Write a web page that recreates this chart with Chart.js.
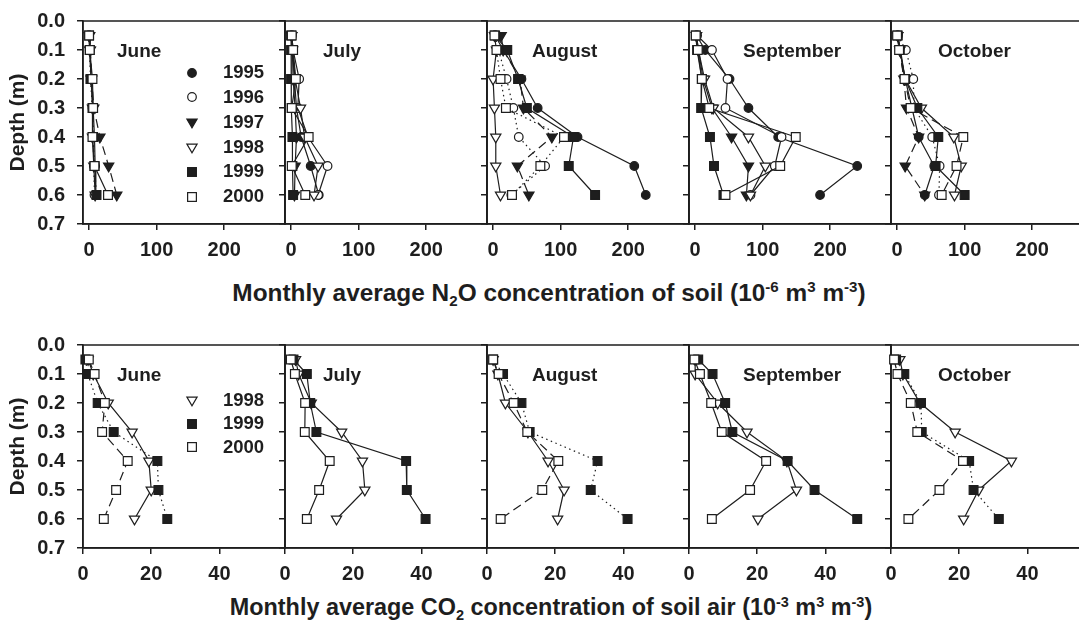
<!DOCTYPE html>
<html><head><meta charset="utf-8">
<script src="https://cdn.jsdelivr.net/npm/chart.js@4.4.1/dist/chart.umd.min.js"></script>
<style>
html,body{margin:0;padding:0;background:#fff;}
#wrap{position:relative;width:1079px;height:632px;overflow:hidden;font-family:'Liberation Sans',Arial,Helvetica,sans-serif;font-weight:bold;color:#1e1e1e;}
canvas{position:absolute;}
.lbl{position:absolute;white-space:nowrap;line-height:1;}
.title{position:absolute;white-space:nowrap;line-height:1;transform:translate(-50%,-50%);}
.title sub,.title sup{font-size:0.62em;line-height:0;}
.title sub{vertical-align:-0.35em;}
.title sup{vertical-align:0.6em;}
</style></head>
<body><div id="wrap"></div>
<script>
// ---------- data ----------
const depths = [0.05, 0.1, 0.2, 0.3, 0.4, 0.5, 0.6];
const months = ['June', 'July', 'August', 'September', 'October'];
const yTicks = [0, 0.1, 0.2, 0.3, 0.4, 0.5, 0.6, 0.7];
const n2oTicks = [0, 100, 200];
const co2Ticks = [0, 20, 40];
const n2oYears = ['1995', '1996', '1997', '1998', '1999', '2000'];
const co2Years = ['1998', '1999', '2000'];

// N2O (10^-6 m3 m-3); rows = June..October, values at depths
const n2o1995 = [
  [0, 1, 3, 6, 8, 9, 10],
  [1, 2, 5, 8, 15, 29, 41],
  [3, 15, 42, 66, 125, 209, 226],
  [2, 15, 51, 79, 123, 240, 185],
  [1, 5, 12, 22, 32, 55, 41]
];
const n2o1996 = [
  [0, 1, 3, 5, 6, 7, 8],
  [1, 3, 12, 10, 25, 54, 40],
  [3, 8, 20, 30, 38, 77, 27],
  [3, 25, 48, 45, 128, 118, 82],
  [1, 13, 24, 25, 52, 63, 62]
];
const n2o1997 = [
  [1, 2, 4, 7, 16, 29, 41],
  [1, 2, 3, 6, 8, 6, 5],
  [12, 15, 40, 45, 87, 36, 53],
  [2, 5, 12, 25, 54, 79, 76],
  [1, 4, 10, 14, 32, 12, 41]
];
const n2o1998 = [
  [0, 1, 3, 5, 5, 7, 9],
  [1, 2, 6, 14, 20, 40, 34],
  [2, 5, 0, 2, 4, 4, 11],
  [2, 5, 14, 27, 79, 104, 82],
  [1, 4, 12, 36, 84, 95, 85]
];
const n2o1999 = [
  [0, 1, 2, 5, 6, 8, 11],
  [0, 0, 0, 1, 2, 2, 3],
  [3, 21, 37, 50, 119, 112, 151],
  [1, 3, 10, 9, 22, 28, 42],
  [1, 4, 12, 30, 61, 57, 100]
];
const n2o2000 = [
  [0, 1, 5, 6, 5, 8, 28],
  [1, 3, 7, 1, 26, 1, 21],
  [2, 5, 11, 19, 105, 70, 28],
  [1, 4, 10, 21, 149, 126, 45],
  [0, 3, 11, 20, 98, 88, 66]
];

// CO2 (10^-3 m3 m-3)
const co2_1998 = [
  [1.5, 3, 7.4, 14.4, 19.3, 20.0, 15.1],
  [3.1, 4, 7.7, 16.6, 22.7, 23.4, 15.1],
  [1.8, 3.2, 5.4, 12, 17.9, 22.6, 20.7],
  [1.8, 1.8, 8.4, 17.0, 28.7, 31.5, 20.2],
  [2.6, 3.5, 8.5, 18.8, 35.3, 25.7, 21.3]
];
const co2_1999 = [
  [0.7, 1.4, 4.3, 9.0, 21.8, 22.1, 24.7],
  [2.5, 6.4, 7.4, 9.2, 35.5, 35.7, 41.2],
  [1.8, 4.7, 10.1, 12.5, 32.4, 30.4, 41.2],
  [2.7, 6.9, 10.6, 12.7, 28.9, 36.8, 49.3],
  [1.5, 3.9, 8.8, 9.0, 22.9, 24.2, 31.6]
];
const co2_2000 = [
  [1.7, 3.4, 6.4, 5.6, 13.1, 9.7, 6.1],
  [1.7, 2.9, 5.9, 5.8, 13.1, 10.0, 6.4],
  [1.8, 3.4, 7.8, 11.8, 20.9, 16.2, 4.0],
  [1.6, 3.2, 6.5, 9.6, 22.6, 17.9, 6.7],
  [0.9, 1.9, 5.8, 7.7, 21.1, 14.2, 5.1]
];

// ---------- styles ----------
const INK = '#1e1e1e';
const FONT = "'Liberation Sans', Arial, Helvetica, sans-serif";
const DASH = { solid: [], dot: [1.5, 3.5], dash: [9, 5] };
const MARK = {
  '1995': { shape: 'circle', filled: true },
  '1996': { shape: 'circle', filled: false },
  '1997': { shape: 'triangle', filled: true },
  '1998': { shape: 'triangle', filled: false },
  '1999': { shape: 'rect', filled: true },
  '2000': { shape: 'rect', filled: false }
};
const RADIUS = { circle: 4.3, triangle: 5.9, rect: 6.2 };
const n2oLineStyles = [
  ['solid', 'dot', 'dash', 'solid', 'dot', 'solid'],
  ['solid', 'solid', 'solid', 'solid', 'solid', 'solid'],
  ['solid', 'dot', 'dash', 'solid', 'solid', 'dot'],
  ['solid', 'solid', 'solid', 'solid', 'solid', 'solid'],
  ['solid', 'dot', 'dash', 'solid', 'solid', 'dash']
];
const co2LineStyles = [
  ['solid', 'dot', 'dash'],
  ['solid', 'solid', 'solid'],
  ['solid', 'dot', 'dash'],
  ['solid', 'solid', 'solid'],
  ['solid', 'dot', 'dash']
];

// ---------- layout ----------
const AXW = 83;          // y-axis strip width inside each canvas
const PW = 202;          // panel width
const PH = 203;          // panel height
const PTOP = 21;         // panel top inside canvas
const CH = 265;          // canvas height
const panelLefts = [83, 285, 487, 689, 891];
const monthLabelX = [117, 323, 532, 743, 938];

const ROWS = [
  { top: 0, years: n2oYears, series: [n2o1995, n2o1996, n2o1997, n2o1998, n2o1999, n2o2000],
    ticks: n2oTicks, min: -9, max: 290, styles: n2oLineStyles,
    legendY0: 72.5, legendStep: 24.8 },
  { top: 324, years: co2Years, series: [co2_1998, co2_1999, co2_2000],
    ticks: co2Ticks, min: 0, max: 59.2, styles: co2LineStyles,
    legendY0: 400, legendStep: 23.5 }
];

const wrap = document.getElementById('wrap');

const framePlugin = {
  id: 'frame',
  beforeDatasetsDraw(chart) {
    const { ctx, chartArea: a } = chart;
    ctx.save();
    ctx.strokeStyle = INK;
    ctx.lineWidth = 1.5;
    ctx.strokeRect(a.left, a.top, a.right - a.left, a.bottom - a.top);
    ctx.restore();
  }
};

function makePanel(row, i) {
  const R = ROWS[row];
  const cv = document.createElement('canvas');
  cv.width = AXW + PW + 4;
  cv.height = CH;
  cv.style.left = (panelLefts[i] - AXW) + 'px';
  cv.style.top = R.top + 'px';
  wrap.appendChild(cv);
  const n = R.years.length;
  const datasets = R.years.map((yr, k) => {
    const m = MARK[yr];
    return {
      label: yr,
      data: depths.map((d, j) => ({ x: R.series[k][i][j], y: d })),
      showLine: true,
      borderColor: INK,
      borderWidth: 1.2,
      borderDash: DASH[R.styles[i][k]],
      pointStyle: m.shape,
      pointRotation: m.shape === 'triangle' ? 180 : 0,
      pointRadius: RADIUS[m.shape],
      pointBackgroundColor: m.filled ? INK : '#ffffff',
      pointBorderColor: INK,
      pointBorderWidth: 1.2,
      order: n - k,
      clip: false
    };
  });
  new Chart(cv, {
    type: 'scatter',
    data: { datasets },
    options: {
      responsive: false,
      animation: false,
      devicePixelRatio: 1,
      layout: { padding: { top: PTOP, left: 0, right: 4, bottom: 0 }, autoPadding: false },
      plugins: { legend: { display: false }, tooltip: { enabled: false } },
      scales: {
        x: {
          type: 'linear', position: 'bottom', min: R.min, max: R.max,
          afterBuildTicks: s => { s.ticks = R.ticks.map(v => ({ value: v })); },
          afterFit: s => { s.height = CH - PTOP - PH; s.paddingLeft = 0; s.paddingRight = 0; },
          grid: { drawOnChartArea: false, drawTicks: true, tickLength: 6, color: INK, lineWidth: 1.5 },
          border: { display: true, color: INK, width: 1.5 },
          ticks: { color: INK, padding: 8, maxRotation: 0, autoSkip: false,
                   font: { family: FONT, size: 20, weight: 'bold' },
                   callback: v => String(v) }
        },
        y: {
          type: 'linear', position: 'left', reverse: true, min: 0, max: 0.7,
          afterBuildTicks: s => { s.ticks = yTicks.map(v => ({ value: v })); },
          afterFit: s => { s.width = AXW; s.paddingTop = 0; s.paddingBottom = 0; },
          grid: { drawOnChartArea: false, drawTicks: true, tickLength: 6, color: INK, lineWidth: 1.5 },
          border: { display: true, color: INK, width: 1.5 },
          ticks: { display: i === 0, color: INK, padding: 12, autoSkip: false,
                   font: { family: FONT, size: 20, weight: 'bold' },
                   callback: v => Number(v).toFixed(1) },
          title: { display: i === 0, text: 'Depth (m)', color: INK,
                   font: { family: FONT, size: 21, weight: 'bold' }, padding: { top: 6, bottom: 0 } }
        }
      }
    },
    plugins: [framePlugin]
  });
}

function addLabel(text, x, y, size) {
  const d = document.createElement('div');
  d.className = 'lbl';
  d.style.left = x + 'px';
  d.style.top = (y - size / 2) + 'px';
  d.style.fontSize = size + 'px';
  d.textContent = text;
  wrap.appendChild(d);
}

function markerSVG(yr, cx, cy) {
  const m = MARK[yr];
  const fill = m.filled ? INK : '#fff';
  const r = RADIUS[m.shape];
  let shape;
  if (m.shape === 'circle') shape = `<circle cx="10" cy="10" r="${r}" />`;
  else if (m.shape === 'rect') { const h = r * Math.SQRT1_2; shape = `<rect x="${10 - h}" y="${10 - h}" width="${2 * h}" height="${2 * h}" />`; }
  else { const w = r * Math.sqrt(3) / 2; shape = `<polygon points="${10 - w},${10 - r / 2} ${10 + w},${10 - r / 2} 10,${10 + r}" />`; }
  const d = document.createElement('div');
  d.style.position = 'absolute';
  d.style.left = (cx - 10) + 'px';
  d.style.top = (cy - 10) + 'px';
  d.innerHTML = `<svg width="20" height="20"><g fill="${fill}" stroke="${INK}" stroke-width="1.2">${shape}</g></svg>`;
  wrap.appendChild(d);
}

ROWS.forEach((R, row) => {
  months.forEach((mo, i) => {
    makePanel(row, i);
    addLabel(mo, monthLabelX[i], R.top + PTOP + 29, 19);
  });
  R.years.forEach((yr, k) => {
    const cy = R.legendY0 + k * R.legendStep;
    markerSVG(yr, 192, cy);
    addLabel(yr, 223, cy, 18.5);
  });
});

function addTitle(html, cx, cy, size) {
  const d = document.createElement('div');
  d.className = 'title';
  d.style.left = cx + 'px';
  d.style.top = cy + 'px';
  d.style.fontSize = size + 'px';
  d.innerHTML = html;
  wrap.appendChild(d);
}
addTitle('Monthly average N<sub>2</sub>O concentration of soil (10<sup>-6</sup> m<sup>3</sup> m<sup>-3</sup>)', 549, 293, 24.4);
addTitle('Monthly average CO<sub>2</sub> concentration of soil air (10<sup>-3</sup> m<sup>3</sup> m<sup>-3</sup>)', 551, 608, 23.4);
</script>
</body></html>
